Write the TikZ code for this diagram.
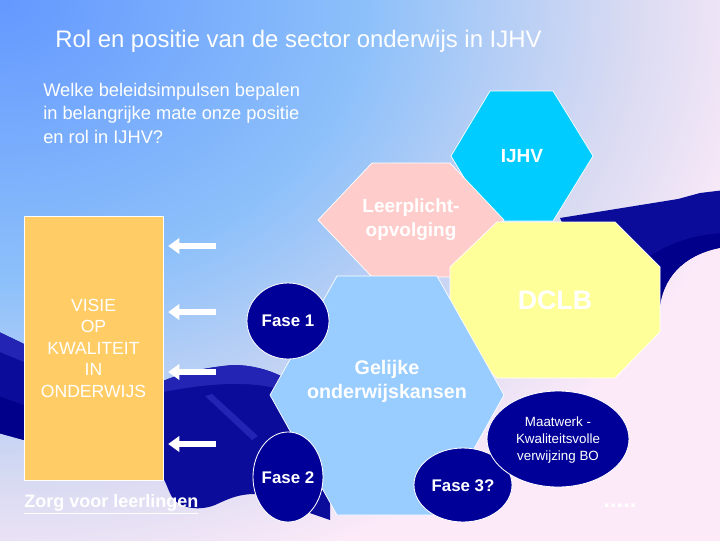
\documentclass[tikz,border=0pt]{standalone}
\usepackage{fontspec}
\setmainfont{Liberation Sans}
\usetikzlibrary{arrows.meta}
\definecolor{bgA}{RGB}{100,152,255}
\definecolor{bgB}{RGB}{140,192,250}
\definecolor{bgC}{RGB}{215,218,242}
\definecolor{bgD}{RGB}{252,234,248}
\definecolor{ijhvcyan}{RGB}{0,204,255}
\definecolor{leerroze}{RGB}{255,204,204}
\definecolor{kansblauw}{RGB}{153,204,255}
\definecolor{dclbgeel}{RGB}{255,255,153}
\definecolor{visieoranje}{RGB}{255,204,102}
\definecolor{fasenavy}{RGB}{0,0,153}
\definecolor{vlakblauw}{RGB}{12,12,155}
\definecolor{vlaklicht}{RGB}{35,35,180}
\definecolor{vlakdonker}{RGB}{0,0,138}
\pgfdeclareradialshading{achtergrond}{\pgfpointorigin}{color(0cm)=(bgA); color(7cm)=(bgB); color(12cm)=(bgC); color(15cm)=(bgD); color(24cm)=(bgD)}

\begin{document}
\begin{tikzpicture}[x=0.025cm, y=-0.025cm,
    vlak/.style={draw=white, line width=0.5pt},
    fasebol/.style={fill=fasenavy, draw=white, line width=0.6pt},
    fasetekst/.style={text=white, font=\fontsize{12}{14}\selectfont\bfseries},
    vettekst/.style={text=white, font=\bfseries, align=center},
    pijl/.style={draw=white, line width=4.3pt, -{Triangle[length=8pt, width=11pt]}, shorten >=0.12cm}]

  % ---- background ----
  \useasboundingbox (0,0) rectangle (720,540);
  \begin{scope}
    \clip (0,0) rectangle (720,540);
    \node[inner sep=0, xscale=1.3, transform shape] at (0,0) {\pgfuseshading{achtergrond}};
  \end{scope}

  % ---- dark blue swooshes ----
  \fill[vlakblauw] (-5,330) -- (24,344) -- (163,381) .. controls (180,374) and (200,368) .. (233,365)
    .. controls (255,365) and (280,372) .. (300,388) -- (330,440) -- (330,520) -- (255,494)
    .. controls (238,494) and (228,499) .. (215,505) .. controls (200,511) and (180,509) .. (172,497)
    .. controls (168,490) and (166,482) .. (163,478) -- (24,440) -- (-5,432) -- cycle;
  \fill[vlaklicht] (-5,330) -- (24,344) -- (24,362) -- (-5,350) -- cycle;
  \fill[vlaklicht] (163,381) .. controls (180,374) and (200,368) .. (233,365)
    .. controls (255,365) and (280,372) .. (300,388) -- (294,394)
    .. controls (265,382) and (225,380) .. (163,392) -- cycle;
  \fill[vlaklicht] (205,396) -- (212,394) -- (258,436) -- (252,440) -- cycle;
  \fill[vlakdonker] (-5,395) -- (24,405) -- (24,440) -- (-5,432) -- cycle;
  \fill[vlakblauw] (560,218) -- (678,199) -- (700,193) -- (725,190) -- (725,247)
    .. controls (690,252) and (665,272) .. (660,305) -- (600,300) -- cycle;
  \fill[vlakdonker] (650,256) .. controls (675,240) and (700,234) .. (725,233) -- (725,247)
    .. controls (690,252) and (665,272) .. (660,305) -- cycle;

  % ---- title and question ----
  \node[anchor=base west, inner sep=0, text=white, font=\fontsize{17}{20}\selectfont] (titel) at (55,47)
    {Rol en positie van de sector onderwijs in IJHV};
  \node[anchor=base west, inner sep=0, text=white, align=left, font=\fontsize{13}{16.4}\selectfont] (vraag) at (43,143)
    {Welke beleidsimpulsen bepalen\\in belangrijke mate onze positie\\en rol in IJHV?};

  % ---- visie box and arrows ----
  \node[vlak, fill=visieoranje, minimum width=3.475cm, minimum height=6.6cm, inner sep=0,
        align=center, text=white, font=\fontsize{12.5}{15.3}\selectfont] (visie) at (93.5,348)
    {VISIE\\OP\\KWALITEIT\\IN\\ONDERWIJS};
  \foreach \y [count=\i] in {246,312,372,444} {
    \coordinate (p\i) at (216,\y);
    \draw[pijl] (p\i) -- (p\i -| visie.east);
  }
  \node[anchor=base west, inner sep=0, text=white, font=\fontsize{12.8}{15}\selectfont\bfseries] (zorg) at (24,507)
    {\underline{Zorg voor leerlingen}};

  % ---- IJHV hexagon ----
  \filldraw[vlak, fill=ijhvcyan] (490,91) -- (553,91) -- (593,156) -- (553,221) -- (490,221) -- (451,156) -- cycle;
  \node[vettekst, font=\fontsize{13.5}{16}\selectfont\bfseries] (ijhv) at (522,156) {IJHV};

  % ---- Leerplicht hexagon ----
  \filldraw[vlak, fill=leerroze] (372,163) -- (450,163) -- (504,220) -- (450,277) -- (372,277) -- (318,220) -- cycle;
  \node[vettekst, anchor=base, font=\fontsize{13.5}{16.4}\selectfont\bfseries] (leerplicht) at (411,236)
    {Leerplicht-\\opvolging};

  % ---- DCLB octagon ----
  \filldraw[vlak, fill=dclbgeel] (497,222) -- (615,222) -- (660,267) -- (660,332) -- (615,378) -- (497,378)
    -- (450,332) -- (450,267) -- cycle;
  \node[vettekst, font=\fontsize{19}{22}\selectfont\bfseries] (dclb) at (555,300) {DCLB};

  % ---- Gelijke onderwijskansen hexagon ----
  \filldraw[vlak, fill=kansblauw] (337,276) -- (437,276) -- (504,395) -- (437,515) -- (337,515) -- (270,395) -- cycle;
  \node[vettekst, anchor=base, font=\fontsize{14}{16.4}\selectfont\bfseries] (kansen) at (387,398)
    {Gelijke\\onderwijskansen};

  % ---- phases ----
  \filldraw[fasebol] (288,321) ellipse (41 and 38);
  \node[fasetekst] (fase1) at (288,321) {Fase 1};
  \filldraw[fasebol] (288,477) ellipse (35 and 45);
  \node[fasetekst] (fase2) at (288,478) {Fase 2};
  \filldraw[fasebol] (463,485) ellipse (49 and 37);
  \node[fasetekst] (fase3) at (463,486) {Fase 3?};
  \filldraw[fasebol] (558,439) ellipse (71 and 48);
  \node[text=white, align=center, font=\fontsize{9.5}{12.1}\selectfont] (maatwerk) at (558,440)
    {Maatwerk -\\Kwaliteitsvolle\\verwijzing BO};

  % ---- dots ----
  \node[anchor=base, inner sep=0, text=white, font=\fontsize{17}{20}\selectfont\bfseries] (puntjes) at (620,507) {.....};

\end{tikzpicture}
\end{document}
